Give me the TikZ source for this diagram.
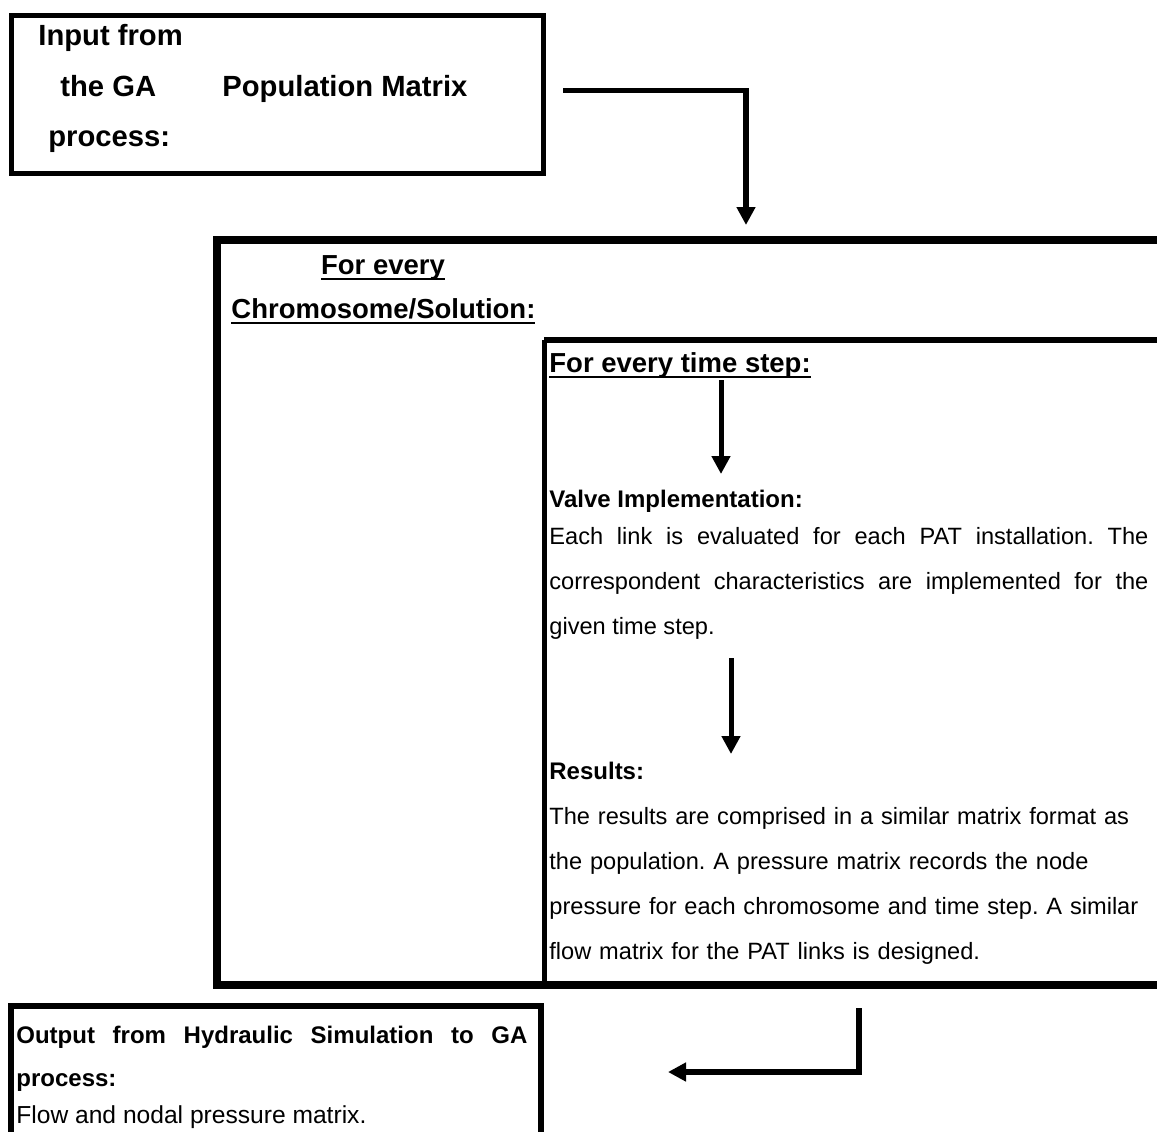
\documentclass[tikz,border=0pt]{standalone}
\usepackage{fontspec}
\setmainfont{Liberation Sans}
\usetikzlibrary{arrows.meta}
\frenchspacing
% a thick underline
\newcommand\hul[1]{\setbox0=\hbox{#1}\rlap{\rule[-3pt]{\wd0}{1.25pt}}\box0}

\tikzset{
  flow/.style={line width=2.8pt, -{Triangle[width=9pt,length=9pt]}},
  head/.style={inner sep=0pt, anchor=base west, font=\bfseries\fontsize{14.6}{17}\selectfont},
  mid/.style={inner sep=0pt, anchor=base west, font=\bfseries\fontsize{13.75}{16}\selectfont},
  sub/.style={inner sep=0pt, anchor=base west, font=\bfseries\fontsize{12}{15}\selectfont},
  body/.style={inner sep=0pt, anchor=base west, text width=299.5pt, font=\fontsize{11.8}{22.5}\selectfont},
}

\begin{document}
\begin{tikzpicture}[x=0.5pt,y=-0.5pt]
% the page is 1157 by 1131 units, one unit per pixel of the sketch
\useasboundingbox (0,0) rectangle (1157,1131);
\clip (0,0) rectangle (1157,1131);
% The input box
\draw[line width=2.5pt] (11,15) rectangle (543,173);
\node[head] (inp1) at (38,45) {Input from};
\node[head] (inp2) at (60,96) {the GA};
\node[head] (inp3) at (48,146) {process:};
\node[head] (popmat) at (222,96) {Population Matrix};
% The chromosome box, open to the right
\draw[line width=4.25pt] (1170,240) -- (217,240) -- (217,985) -- (1170,985);
\node[mid, anchor=base] (chr1) at (383,274) {\hul{For every}};
\node[mid] (chr2) at (231,318) {\hul{Chromosome/Solution:}};
% The time step box inside it
\draw[line width=3pt] (1170,340) -- (544,340);
\draw[line width=2.5pt] (544,340) -- (544,985);
\node[mid] (tstep) at (549,372) {\hul{For every time step:}};
\node[sub] (valve) at (549,507) {Valve Implementation:};
\node[body, align=justify] (valvetxt) at (549,544) {Each link is evaluated for each PAT installation. The\linebreak correspondent characteristics are implemented for the\linebreak given time step.};
\node[sub] (res) at (549,779) {Results:};
\node[body, text width=320pt, align=left] (restxt) at (549,824) {The results are comprised in a similar matrix format as\\ the population. A pressure matrix records the node\\ pressure for each chromosome and time step. A similar\\ flow matrix for the PAT links is designed.};
% The output box, open at the bottom
\draw[line width=2.75pt] (11,1200) -- (11,1006) -- (541,1006) -- (541,1200);
\node[sub, text width=255.5pt, align=justify, font=\bfseries\fontsize{12}{21.5}\selectfont] (outp) at (16,1043) {Output from Hydraulic Simulation to GA\linebreak process:};
\node[sub, font=\fontsize{12.3}{15}\selectfont] (outtxt) at (16,1123) {Flow and nodal pressure matrix.};
% The arrows
\coordinate (a1s) at (563,90.5);
\coordinate (a1e) at (746,225);
\draw[flow] (a1s) -| (a1e);
\coordinate (a2s) at (721,380);
\coordinate (a2e) at (721,474);
\draw[flow, line width=2.5pt] (a2s) -- (a2e);
\coordinate (a3s) at (731,658);
\coordinate (a3e) at (731,754);
\draw[flow, line width=2.5pt] (a3s) -- (a3e);
\coordinate (a4s) at (859,1008);
\coordinate (a4e) at (668,1072);
\draw[flow] (a4s) |- (a4e);
\end{tikzpicture}
\end{document}
